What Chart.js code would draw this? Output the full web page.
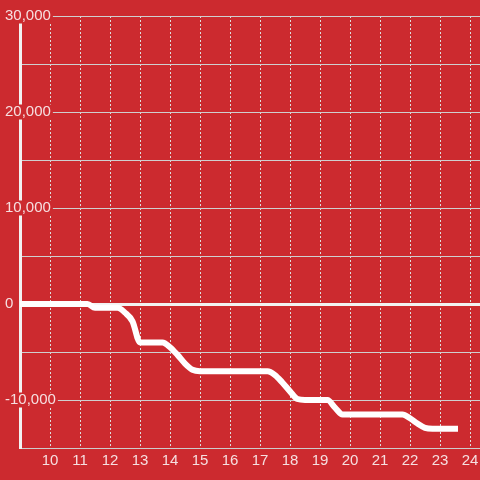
<!DOCTYPE html>
<html>
<head>
<meta charset="utf-8">
<script src="https://cdn.jsdelivr.net/npm/chart.js@4"></script>
<style>
  html, body { margin: 0; padding: 0; background: #cc2a2f; }
  canvas { display: block; background: #cc2a2f; }
</style>
</head>
<body>
<canvas id="c" width="480" height="480"></canvas>
<script>
// Data
const HOURS = [9, 11.25, 11.5, 12.25, 12.5, 12.75, 13, 13.75, 14, 14.25, 14.5, 14.75, 15,
               17.25, 17.5, 17.75, 18, 18.25, 18.5, 19.25, 19.5, 19.75, 21.75, 22, 22.25, 22.5, 22.75, 23.5];
const BALANCE = [0, 0, -400, -400, -900, -1800, -4000, -4000, -4500, -5300, -6200, -6850, -7000,
                 -7000, -7400, -8200, -9100, -9900, -10000, -10000, -10800, -11500, -11500, -11900, -12450, -12900, -13000, -13000];
const X_TICKS = [10, 11, 12, 13, 14, 15, 16, 17, 18, 19, 20, 21, 22, 23, 24];
const Y_TICKS = [-15000, -10000, -5000, 0, 5000, 10000, 15000, 20000, 25000, 30000];
const Y_LABELED = [-10000, 0, 10000, 20000, 30000];

const BG = '#cc2a2f';
const FONT = { family: "'Liberation Sans', Arial, sans-serif", size: 15 };

const points = HOURS.map((h, i) => ({ x: h, y: BALANCE[i] }));

new Chart(document.getElementById('c'), {
  type: 'line',
  data: {
    datasets: [{
      data: points,
      borderColor: '#ffffff',
      borderWidth: 6,
      borderCapStyle: 'square',
      borderJoinStyle: 'round',
      cubicInterpolationMode: 'monotone',
      pointRadius: 0,
      fill: false
    }]
  },
  options: {
    responsive: false,
    animation: false,
    devicePixelRatio: 1,
    layout: { padding: { left: 5, top: 16, right: 0, bottom: 6 } },
    plugins: { legend: { display: false }, tooltip: { enabled: false } },
    scales: {
      x: {
        type: 'linear',
        min: 9,
        max: 24 + 1 / 3,
        afterBuildTicks: (s) => { s.ticks = X_TICKS.map(v => ({ value: v })); },
        afterFit: (s) => { s.paddingLeft = 0; s.paddingRight = 0; },
        grid: { color: '#dddddd', lineWidth: 1, drawTicks: false },
        border: { display: true, color: '#cccccc', width: 1, dash: [2, 2] },
        ticks: { color: '#f6dfe0', font: FONT, padding: 4, maxRotation: 0, autoSkip: false,
                 callback: (v) => String(v) }
      },
      y: {
        type: 'linear',
        min: -15000,
        max: 30000,
        afterBuildTicks: (s) => { s.ticks = Y_TICKS.map(v => ({ value: v })); },
        afterFit: (s) => { s.width = 15; s.paddingTop = 0; s.paddingBottom = 0; },
        grid: {
          drawTicks: false,
          color: (ctx) => ctx.tick && ctx.tick.value === 0 ? '#f2f2f2' : '#cfcfcf',
          lineWidth: (ctx) => ctx.tick && ctx.tick.value === 0 ? 3 : 1
        },
        border: { display: true, color: '#f2f2f2', width: 3 },
        ticks: {
          color: '#f6dfe0',
          font: { family: FONT.family, size: 15, lineHeight: 1 },
          mirror: true,
          padding: -15,
          crossAlign: 'near',
          autoSkip: false,
          showLabelBackdrop: (ctx) => ctx.tick && Y_LABELED.includes(ctx.tick.value),
          backdropColor: BG,
          backdropPadding: { top: 0, bottom: 0, left: 2, right: 2 },
          callback: (v) => Y_LABELED.includes(v) ? v.toLocaleString('en-US') : ''
        }
      }
    }
  }
});
</script>
</body>
</html>
